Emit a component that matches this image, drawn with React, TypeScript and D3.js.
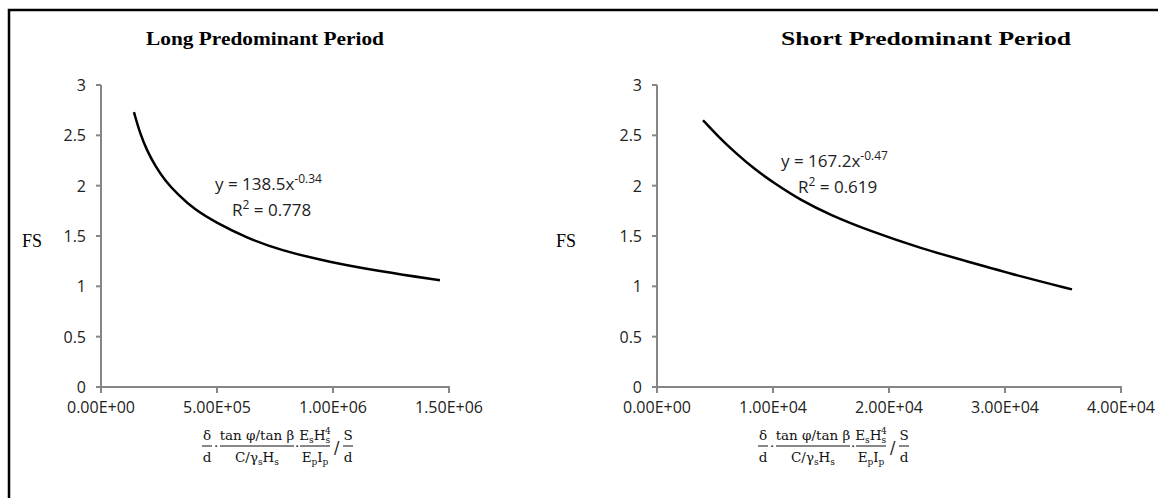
import React from "react";
import * as d3 from "d3";

// ---------- data ----------
const yTicks = [0, 0.5, 1, 1.5, 2, 2.5, 3];
const leftXTicks = [0, 500000, 1000000, 1500000];
const rightXTicks = [0, 10000, 20000, 30000, 40000];
const leftXTickLabels = ["0.00E+00", "5.00E+05", "1.00E+06", "1.50E+06"];
const rightXTickLabels = ["0.00E+00", "1.00E+04", "2.00E+04", "3.00E+04", "4.00E+04"];

const leftTitle = "Long Predominant Period";
const rightTitle = "Short Predominant Period";

// trend curves
const leftCurveX = [142000, 168000, 198000, 233000, 276000, 332000, 405000, 491000, 629000, 771000, 987000, 1202000, 1461000];
const leftCurveY = [2.73, 2.52, 2.35, 2.2, 2.05, 1.91, 1.76, 1.64, 1.48, 1.36, 1.24, 1.15, 1.06];
const rightCurveX = [3966, 5259, 6724, 8448, 10173, 12328, 14914, 18362, 22673, 26984, 31294, 35777];
const rightCurveY = [2.65, 2.49, 2.33, 2.16, 2.02, 1.86, 1.71, 1.55, 1.38, 1.24, 1.1, 0.97];

const leftEq = { coef: "y = 138.5x", exp: "-0.34", r2: "0.778" };
const rightEq = { coef: "y = 167.2x", exp: "-0.47", r2: "0.619" };

const TICK_FONT = "'Open Sans', Carlito, Calibri, sans-serif";
const SERIF = "'Liberation Serif', 'Times New Roman', serif";
const MATH = "'DejaVu Serif', 'Liberation Serif', serif";

type PanelProps = {
  xDomain: [number, number];
  xRange: [number, number];
  xTicks: number[];
  xLabels: string[];
  cx: number[];
  cy: number[];
  title: string;
  titleX: number;
  titleW: number;
  eq: { coef: string; exp: string; r2: string };
  eqX: number;
  eqY: number;
  fsX: number;
  formulaX: number;
};

function Formula({ x0, yTop }: { x0: number; yTop: number }) {
  const nY = yTop;
  const bY = yTop + 6;
  const dY = yTop + 22;
  const fs = 13.5;
  const c = "#111";
  return (
    <g fontFamily={MATH} fontSize={fs} fill={c}>
      <text x={x0 + 5} y={nY} textAnchor="middle">δ</text>
      <line x1={x0} x2={x0 + 10} y1={bY} y2={bY} stroke={c} strokeWidth={1} />
      <text x={x0 + 5} y={dY} textAnchor="middle">d</text>
      <text x={x0 + 12} y={bY + 5}>·</text>
      <text x={x0 + 55} y={nY} textAnchor="middle">tan φ/tan β</text>
      <line x1={x0 + 18} x2={x0 + 92} y1={bY} y2={bY} stroke={c} strokeWidth={1} />
      <text x={x0 + 55} y={dY} textAnchor="middle">
        C/γ<tspan fontSize={9} dy={3}>s</tspan>
        <tspan dy={-3}>H</tspan>
        <tspan fontSize={9} dy={3}>s</tspan>
      </text>
      <text x={x0 + 93} y={bY + 5}>·</text>
      <text x={x0 + 113} y={nY} textAnchor="middle">
        E<tspan fontSize={9} dy={3}>s</tspan>
        <tspan dy={-3}>H</tspan>
        <tspan fontSize={9} dy={3}>s</tspan>
        <tspan fontSize={9} dx={-5} dy={-9}>4</tspan>
      </text>
      <line x1={x0 + 98} x2={x0 + 128} y1={bY} y2={bY} stroke={c} strokeWidth={1} />
      <text x={x0 + 113} y={dY} textAnchor="middle">
        E<tspan fontSize={9} dy={3}>p</tspan>
        <tspan dy={-3}>I</tspan>
        <tspan fontSize={9} dy={3}>p</tspan>
      </text>
      <text x={x0 + 132} y={bY + 7} fontSize={16}>/</text>
      <text x={x0 + 146} y={nY} textAnchor="middle">S</text>
      <line x1={x0 + 141} x2={x0 + 151} y1={bY} y2={bY} stroke={c} strokeWidth={1} />
      <text x={x0 + 146} y={dY} textAnchor="middle">d</text>
    </g>
  );
}

function Panel(p: PanelProps) {
  const x = d3.scaleLinear().domain(p.xDomain).range(p.xRange);
  const y = d3.scaleLinear().domain([0, 3]).range([387, 85]);
  const pts: [number, number][] = p.cx.map((v, i) => [v, p.cy[i]]);
  const line = d3
    .line<[number, number]>()
    .x((d) => x(d[0]))
    .y((d) => y(d[1]))
    .curve(d3.curveBasis);
  const axisColor = "#868686";
  const ax0 = p.xRange[0];
  return (
    <g>
      <text
        x={p.titleX}
        y={45}
        textAnchor="middle"
        fontFamily={SERIF}
        fontWeight="bold"
        fontSize={19}
        textLength={p.titleW}
        lengthAdjust="spacingAndGlyphs"
        fill="#000"
      >
        {p.title}
      </text>
      {/* y axis */}
      <line x1={ax0} x2={ax0} y1={y(3)} y2={y(0)} stroke={axisColor} strokeWidth={2} />
      {yTicks.map((t) => (
        <g key={t}>
          <line x1={ax0 - 5} x2={ax0} y1={y(t)} y2={y(t)} stroke={axisColor} strokeWidth={2} />
          <text
            x={ax0 - 15}
            y={y(t) + 6}
            textAnchor="end"
            fontFamily={TICK_FONT}
            fontSize={16}
            fill="#222"
          >
            {d3.format("")(t)}
          </text>
        </g>
      ))}
      {/* x axis */}
      <line x1={ax0 - 1} x2={p.xRange[1] + 1} y1={y(0)} y2={y(0)} stroke={axisColor} strokeWidth={2} />
      {p.xTicks.map((t, i) => (
        <g key={t}>
          <line x1={x(t)} x2={x(t)} y1={y(0)} y2={y(0) + 6} stroke={axisColor} strokeWidth={2} />
          <text
            x={x(t)}
            y={y(0) + 26}
            textAnchor="middle"
            fontFamily={TICK_FONT}
            fontSize={16}
            fill="#222"
          >
            {p.xLabels[i]}
          </text>
        </g>
      ))}
      {/* curve */}
      <path d={line(pts) || ""} fill="none" stroke="#000" strokeWidth={2.5} />
      {/* equation */}
      <g fontFamily={TICK_FONT} fontSize={17} fill="#222">
        <text x={p.eqX} y={p.eqY}>
          {p.eq.coef}
          <tspan fontSize={12} dy={-7}>{p.eq.exp}</tspan>
        </text>
        <text x={p.eqX + 17} y={p.eqY + 26}>
          R<tspan fontSize={12} dy={-7}>2</tspan>
          <tspan dy={7}>{" = " + p.eq.r2}</tspan>
        </text>
      </g>
      {/* FS label */}
      <text x={p.fsX} y={247} fontFamily={SERIF} fontSize={18} fill="#000">
        FS
      </text>
      <Formula x0={p.formulaX} yTop={440} />
    </g>
  );
}

export default function App() {
  return (
    <svg
      width={1158}
      height={498}
      style={{ position: "absolute", left: 0, top: 0, background: "#fff" }}
    >
      <rect x={0} y={0} width={1158} height={498} fill="#fff" />
      <path d="M9,498 V10 H1158" fill="none" stroke="#000" strokeWidth={2.5} />
      <Panel
        xDomain={[0, 1500000]}
        xRange={[101, 449]}
        xTicks={leftXTicks}
        xLabels={leftXTickLabels}
        cx={leftCurveX}
        cy={leftCurveY}
        title={leftTitle}
        titleX={265}
        titleW={238}
        eq={leftEq}
        eqX={215}
        eqY={190}
        fsX={22}
        formulaX={202}
      />
      <Panel
        xDomain={[0, 40000]}
        xRange={[657, 1121]}
        xTicks={rightXTicks}
        xLabels={rightXTickLabels}
        cx={rightCurveX}
        cy={rightCurveY}
        title={rightTitle}
        titleX={926}
        titleW={290}
        eq={rightEq}
        eqX={781}
        eqY={167}
        fsX={556}
        formulaX={758}
      />
    </svg>
  );
}
